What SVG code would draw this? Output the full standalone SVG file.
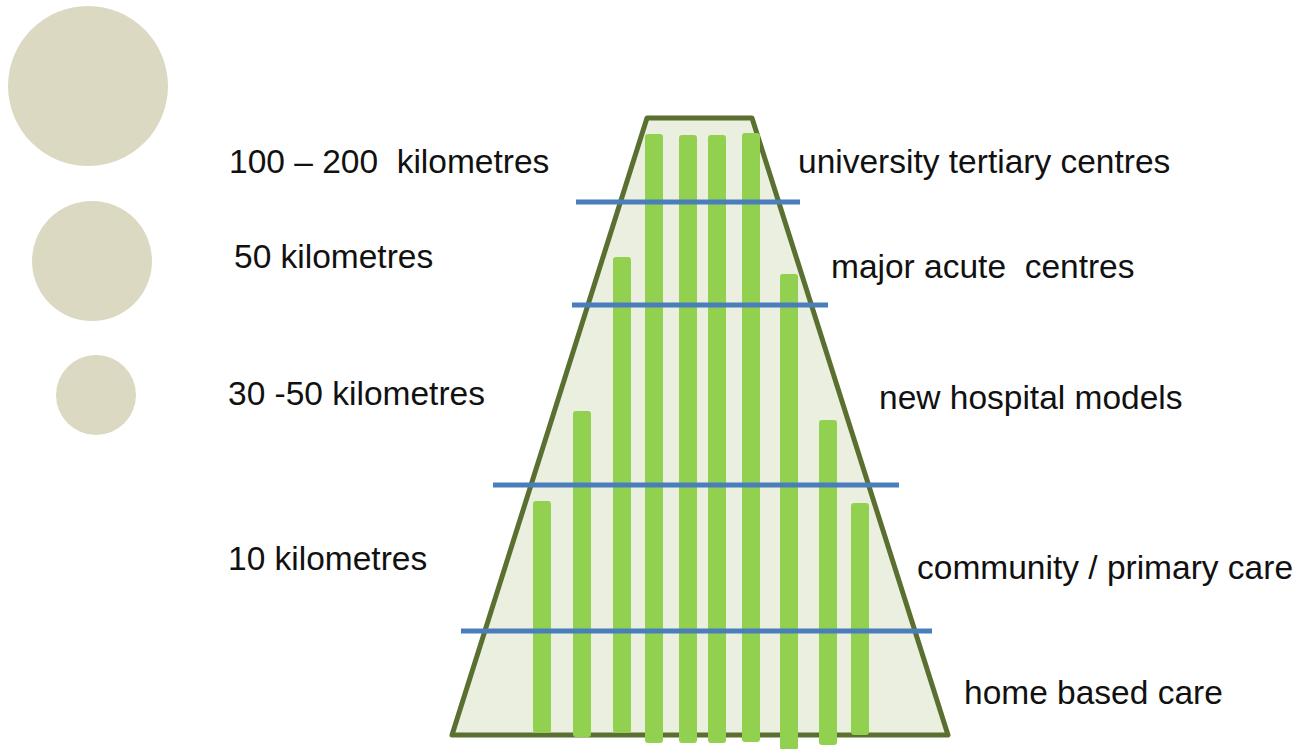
<svg xmlns="http://www.w3.org/2000/svg" width="1300" height="749" viewBox="0 0 1300 749">
  <style>
    .lbl { font-family: "Liberation Sans", Arial, sans-serif; font-size: 33.5px; fill: #111; white-space: pre; }
    .dot { fill: #dcd9c2; }
    .bar { fill: #92d050; }
    .tier { stroke: #4a7ebb; stroke-width: 5; }
  </style>
  <rect width="1300" height="749" fill="#ffffff"/>

  <!-- distance scale circles -->
  <g id="scale-circles">
    <circle class="dot" cx="88" cy="86" r="80"/>
    <circle class="dot" cx="92" cy="261" r="60"/>
    <circle class="dot" cx="96" cy="395" r="40"/>
  </g>

  <!-- distance labels -->
  <g id="distance-labels">
    <text class="lbl" x="229" y="173" xml:space="preserve">100 – 200  kilometres</text>
    <text class="lbl" x="234" y="268">50 kilometres</text>
    <text class="lbl" x="228" y="405">30 -50 kilometres</text>
    <text class="lbl" x="228" y="570">10 kilometres</text>
  </g>

  <!-- pyramid body -->
  <g id="pyramid">
    <path d="M647,118 L752,118 L948,735 L452,735 Z" fill="#ebefdf" stroke="#5a7030" stroke-width="5" stroke-linejoin="round"/>
  </g>

  <!-- service bars -->
  <g id="bars">
    <rect class="bar" x="533" y="501" width="18" height="232" rx="3"/>
    <rect class="bar" x="573" y="411" width="18" height="326" rx="3"/>
    <rect class="bar" x="613" y="257" width="18" height="476" rx="3"/>
    <rect class="bar" x="645" y="134" width="18" height="609" rx="3"/>
    <rect class="bar" x="679" y="135" width="18" height="608" rx="3"/>
    <rect class="bar" x="708" y="135" width="18" height="608" rx="3"/>
    <rect class="bar" x="742" y="133" width="18" height="609" rx="3"/>
    <rect class="bar" x="780" y="274" width="18" height="476" rx="3"/>
    <rect class="bar" x="819" y="420" width="18" height="325" rx="3"/>
    <rect class="bar" x="851" y="503" width="18" height="232" rx="3"/>
  </g>

  <!-- tier boundaries -->
  <g id="connectors">
    <line class="tier" x1="576" y1="202" x2="800" y2="202"/>
    <line class="tier" x1="572" y1="305" x2="828" y2="305"/>
    <line class="tier" x1="493" y1="485" x2="899" y2="485"/>
    <line class="tier" x1="461" y1="631" x2="932" y2="631"/>
  </g>

  <!-- care level labels -->
  <g id="care-labels">
    <text class="lbl" x="798" y="173">university tertiary centres</text>
    <text class="lbl" x="831" y="278" xml:space="preserve">major acute  centres</text>
    <text class="lbl" x="879" y="409">new hospital models</text>
    <text class="lbl" x="917" y="579">community / primary care</text>
    <text class="lbl" x="964" y="704">home based care</text>
  </g>
</svg>
